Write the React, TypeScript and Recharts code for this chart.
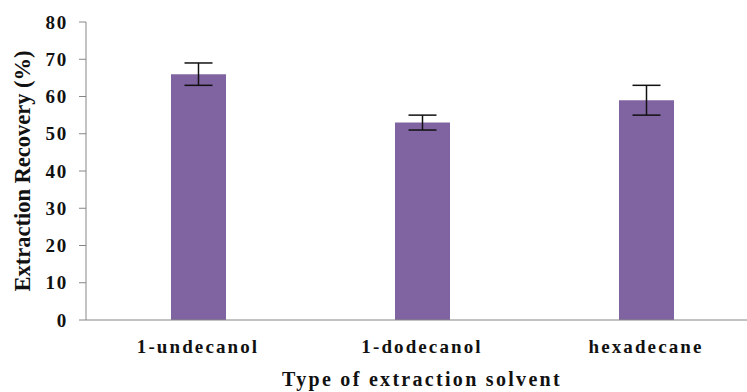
import React from "react";
import { BarChart, Bar, XAxis, YAxis, ErrorBar, Label } from "recharts";

const solvents = ["1-undecanol", "1-dodecanol", "hexadecane"];
const recovery = [66, 53, 59];
const recoveryError = [3, 2, 4];
const yTicks = [0, 10, 20, 30, 40, 50, 60, 70, 80];

const data = solvents.map((name, i) => ({ name, recovery: recovery[i], err: recoveryError[i] }));

const FONT = "'Liberation Serif', 'Times New Roman', serif";
const AXIS = "#868686";

export default function App() {
  return (
    <div style={{ position: "fixed", left: 0, top: 0, width: 747, height: 392, overflow: "hidden", background: "#fff" }}>
      <BarChart width={770} height={392} data={data} margin={{ top: 22, right: 12, bottom: 0, left: 0 }}>
        <XAxis
          dataKey="name"
          height={72}
          stroke={AXIS}
          tickLine={false}
          tickSize={0}
          tickMargin={20}
          tick={{ fill: "#111", fontSize: 19, fontWeight: "bold", fontFamily: FONT, letterSpacing: 2.1 }}
        >
          <Label
            value="Type of extraction solvent"
            position="insideBottom"
            offset={6}
            style={{ fill: "#111", fontSize: 20, fontWeight: "bold", fontFamily: FONT, letterSpacing: 2.3 }}
          />
        </XAxis>
        <YAxis
          width={86}
          domain={[0, 80]}
          ticks={yTicks}
          interval={0}
          stroke={AXIS}
          tickSize={7}
          tickMargin={11}
          tick={{ fill: "#111", fontSize: 19, fontWeight: "bold", fontFamily: FONT, letterSpacing: 1.8 }}
        >
          <Label
            value="Extraction Recovery (%)"
            angle={-90}
            position="insideLeft"
            offset={22}
            style={{ textAnchor: "middle", fill: "#111", fontSize: 22.5, fontWeight: "bold", fontFamily: FONT }}
          />
        </YAxis>
        <Bar dataKey="recovery" fill="#8064A2" barSize={55} isAnimationActive={false}>
          <ErrorBar dataKey="err" width={14} stroke="#111" strokeWidth={1.5} />
        </Bar>
      </BarChart>
    </div>
  );
}
